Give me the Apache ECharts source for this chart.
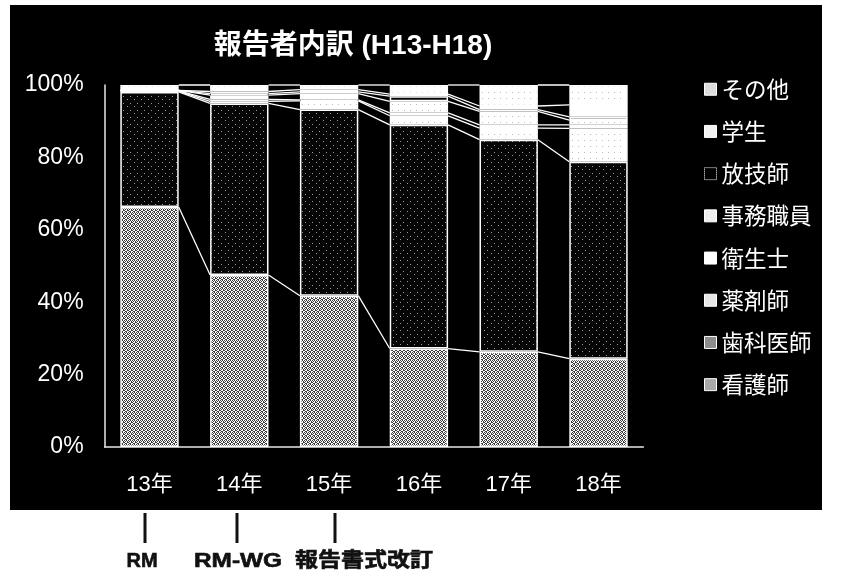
<!DOCTYPE html>
<html><head><meta charset="utf-8">
<script src="https://cdn.jsdelivr.net/npm/echarts@6/dist/echarts.min.js"></script>
<style>html,body{margin:0;padding:0;background:#fff}#c{width:844px;height:575px}</style>
</head><body><div id="c"></div>
<script>
// Reporter breakdown by occupation, H13-H18 (percent of all reports)
const years = ['13年', '14年', '15年', '16年', '17年', '18年'];
const nurse      = [66.3, 47.5, 41.8, 27.2, 26.3, 24.4]; // 看護師
const dentist    = [31.8, 47.4, 51.4, 61.8, 58.6, 54.4]; // 歯科医師
const pharmacist = [0.2, 0.6, 2.4, 2.5, 3.2, 9.2];       // 薬剤師
const hygienist  = [0.1, 0.5, 0.3, 0.8, 0.9, 1.0];       // 衛生士
const clerk      = [0.1, 1.2, 1.7, 3.2, 3.7, 1.3];       // 事務職員
const radiology  = [0.0, 0.4, 0.5, 1.4, 0.5, 0.9];       // 放技師
const student    = [0.0, 0.6, 0.6, 0.6, 1.0, 3.3];       // 学生
const other      = [1.5, 1.8, 1.3, 2.5, 5.8, 5.5];       // その他
const yTicks = [0, 20, 40, 60, 80, 100];
const milestoneLabels = ['RM', 'RM-WG', '報告書式改訂'];

const names = ['看護師', '歯科医師', '薬剤師', '衛生士', '事務職員', '放技師', '学生', 'その他'];
const values = [nurse, dentist, pharmacist, hygienist, clerk, radiology, student, other];

// small bitmap textures for the halftone-like fills
function texture(size, bg, fg, dots) {
  const cv = document.createElement('canvas');
  cv.width = size; cv.height = size;
  const ctx = cv.getContext('2d');
  ctx.fillStyle = bg; ctx.fillRect(0, 0, size, size);
  ctx.fillStyle = fg;
  dots.forEach(d => ctx.fillRect(d[0], d[1], 1, 1));
  return { image: cv, repeat: 'repeat' };
}
const nurseFill = texture(4, '#ffffff', '#3a3a3a',
  [[0,0],[2,0],[1,1],[3,1],[0,2],[3,2],[1,3],[2,3]]);
const dentistFill = texture(7, '#050505', '#9a9a9a', [[1,1],[4,5]]);
const lightFill = texture(6, '#ffffff', '#bbbbbb', [[2,2]]);

const fills = [nurseFill, dentistFill, lightFill, '#ffffff', lightFill, '#000000', '#ffffff', lightFill];
const BAR_RATIO = 0.65;

const barSeries = names.map((n, k) => ({
  name: n,
  type: 'bar',
  stack: 'all',
  barWidth: '65%',
  data: values[k],
  itemStyle: { color: fills[k], borderColor: '#ffffff', borderWidth: 1.5 },
  emphasis: { disabled: true }
}));

// series lines joining the top of each segment between neighbouring bars
const linkData = [];
for (let i = 0; i < years.length - 1; i++) {
  for (let k = 0; k < names.length; k++) linkData.push([i, k]);
}
function cumulative(i, k) {
  let s = 0;
  for (let j = 0; j <= k; j++) s += values[j][i];
  return s;
}
const linkSeries = {
  type: 'custom',
  silent: true,
  z: 1,
  data: linkData,
  renderItem: function (params, api) {
    const i = api.value(0), k = api.value(1);
    const p1 = api.coord([i, cumulative(i, k)]);
    const p2 = api.coord([i + 1, cumulative(i + 1, k)]);
    const half = api.size([1, 0])[0] * BAR_RATIO / 2;
    return {
      type: 'line',
      shape: { x1: p1[0] + half, y1: p1[1], x2: p2[0] - half, y2: p2[1] },
      style: { stroke: '#ffffff', lineWidth: 1.3 }
    };
  }
};

const legendStyles = {
  '看護師': { color: '#a8a8a8', borderColor: '#fff', borderWidth: 1 },
  '歯科医師': { color: '#8c8c8c', borderColor: '#fff', borderWidth: 1 },
  '薬剤師': { color: '#e6e6e6', borderColor: '#fff', borderWidth: 1 },
  '衛生士': { color: '#ffffff', borderColor: '#fff', borderWidth: 1 },
  '事務職員': { color: '#eeeeee', borderColor: '#fff', borderWidth: 1 },
  '放技師': { color: '#000000', borderColor: '#fff', borderWidth: 1, borderType: 'dotted' },
  '学生': { color: '#f2f2f2', borderColor: '#fff', borderWidth: 1 },
  'その他': { color: '#dcdcdc', borderColor: '#fff', borderWidth: 1 }
};

const labelFont = "'Liberation Sans', 'Noto Sans CJK JP', sans-serif";
const chart = echarts.init(document.getElementById('c'), null, { renderer: 'canvas' });

const notes = [
  { x: 145, cx: 142, scale: 1.0 },
  { x: 237, cx: 238, scale: 1.22 },
  { x: 335, cx: 364, scale: 1.15 }
];
const graphics = [
  { type: 'rect', z: -10, shape: { x: 10, y: 5, width: 812, height: 505 }, style: { fill: '#000000' }, silent: true }
];
notes.forEach((n, idx) => {
  graphics.push({ type: 'rect', shape: { x: n.x - 1.5, y: 513, width: 3, height: 30 }, style: { fill: '#111' }, silent: true });
  graphics.push({
    type: 'text', x: n.cx, y: 561, scaleX: n.scale, silent: true,
    style: { text: milestoneLabels[idx], x: 0, y: 0, align: 'center', verticalAlign: 'middle',
      fontSize: 20, fontWeight: 'bold', fontFamily: labelFont, fill: '#111',
      stroke: '#111', lineWidth: 0.6 }
  });
});

chart.setOption({
  backgroundColor: '#ffffff',
  animation: false,
  title: {
    text: '報告者内訳 (H13-H18)',
    left: 348, top: 27, textAlign: 'center',
    textStyle: { color: '#ffffff', fontSize: 28, fontWeight: 'bold', fontFamily: labelFont }
  },
  legend: {
    orient: 'vertical',
    left: 699, top: 73,
    itemWidth: 12, itemHeight: 12, itemGap: 19.7,
    icon: 'rect',
    data: names.slice().reverse().map(n => ({ name: n, itemStyle: legendStyles[n] })),
    textStyle: { color: '#ffffff', fontSize: 22.5, lineHeight: 22, fontFamily: "'Noto Sans CJK JP', sans-serif" },
    selectedMode: false
  },
  grid: { left: 104.6, right: 200.6, top: 85, bottom: 128 },
  xAxis: {
    type: 'category',
    data: years,
    axisLine: { lineStyle: { color: '#e8e8e8', width: 1.5 } },
    axisTick: { show: false },
    axisLabel: { color: '#ffffff', fontSize: 22, margin: 27, fontFamily: labelFont }
  },
  yAxis: {
    type: 'value',
    min: yTicks[0], max: yTicks[yTicks.length - 1], interval: yTicks[1] - yTicks[0],
    axisLine: { show: true, lineStyle: { color: '#e8e8e8', width: 1.5 } },
    axisTick: { show: false },
    splitLine: { show: false },
    axisLabel: { color: '#ffffff', fontSize: 23, margin: 21, fontFamily: labelFont, formatter: '{value}%' }
  },
  graphic: graphics,
  series: barSeries.concat([linkSeries])
});
</script>
</body></html>
